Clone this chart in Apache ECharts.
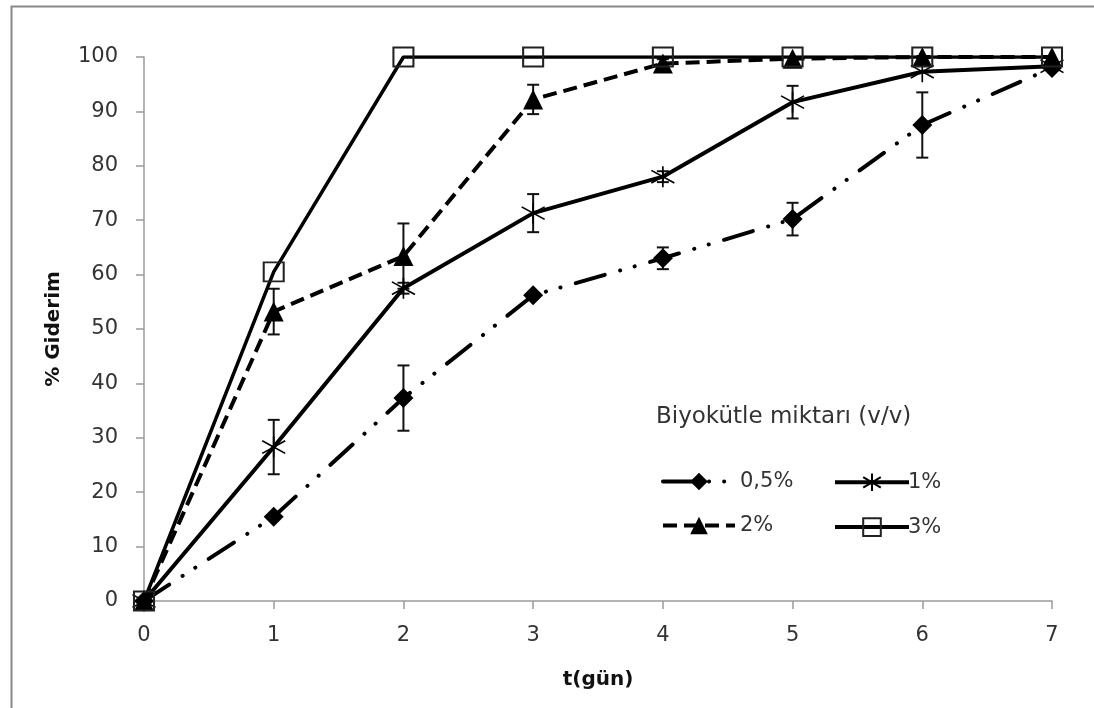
<!DOCTYPE html>
<html><head><meta charset="utf-8">
<script src="https://cdn.jsdelivr.net/npm/echarts@6/dist/echarts.min.js"></script>
<style>html,body{margin:0;padding:0;background:#fff}#c{width:1094px;height:708px}</style>
</head><body><div id="c"></div>
<script>
const days = [0, 1, 2, 3, 4, 5, 6, 7];
const xTicks = [0, 1, 2, 3, 4, 5, 6, 7];
const yTicks = [0, 10, 20, 30, 40, 50, 60, 70, 80, 90, 100];
const seriesNames = ['0,5%', '1%', '2%', '3%'];
const s05 = [0, 15.5, 37.3, 56.2, 63.0, 70.2, 87.5, 98.0];
const s1  = [0, 28.3, 57.5, 71.3, 78.0, 91.7, 97.3, 98.3];
const s2  = [0, 53.2, 63.4, 92.2, 98.8, 99.7, 100, 100];
const s3  = [0, 60.5, 100, 100, 100, 100, 100, 100];
const err05 = [0, 0, 6.0, 0, 2.0, 3.0, 6.0, 0];
const err1  = [0, 5.0, 1.0, 3.5, 1.0, 3.0, 0, 0];
const err2  = [0, 4.2, 6.0, 2.7, 0.8, 0, 0, 0];
const legendTitle = 'Biyokütle miktarı (v/v)';
const yName = '% Giderim';
const xName = 't(gün)';

const FONT = 'DejaVu Sans';
const pts = (v) => days.map((d, i) => [d, v[i]]);
const errData = (v, e) => days.map((d, i) => [d, v[i] - e[i], v[i] + e[i]]).filter((r, i) => e[i] > 0);

const asterisk = 'path://M10,0 L10,20 M1,4 L19,16 M19,4 L1,16';
const square = 'path://M0,0 L20,0 L20,20 L0,20 Z';

function errSeries(v, e) {
  return {
    type: 'custom',
    data: errData(v, e),
    z: 1,
    silent: true,
    renderItem: function (params, api) {
      const x = api.value(0);
      const lo = api.coord([x, api.value(1)]);
      const hi = api.coord([x, api.value(2)]);
      const w = 6;
      const st = { stroke: '#111', lineWidth: 2, fill: 'none' };
      return {
        type: 'group',
        children: [
          { type: 'line', shape: { x1: lo[0], y1: lo[1], x2: hi[0], y2: hi[1] }, style: st },
          { type: 'line', shape: { x1: lo[0] - w, y1: lo[1], x2: lo[0] + w, y2: lo[1] }, style: st },
          { type: 'line', shape: { x1: hi[0] - w, y1: hi[1], x2: hi[0] + w, y2: hi[1] }, style: st }
        ]
      };
    }
  };
}

const axisLabel = { fontFamily: FONT, fontSize: 21, color: '#333' };
const legendBase = {
  orient: 'vertical', top: 466, itemHeight: 22, itemGap: 23,
  lineStyle: { width: 4 }
};
const option = {
  animation: false,
  backgroundColor: '#fff',
  graphic: [
    { type: 'rect', left: 9, top: 4, shape: { width: 1100, height: 720 }, style: { fill: 'none', stroke: '#888', lineWidth: 2 }, silent: true },
    { type: 'text', left: 656, top: 406, style: { text: legendTitle, fontFamily: FONT, fontSize: 23, fill: '#333' } }
  ],
  grid: { left: 144, right: 42, top: 57, bottom: 107 },
  xAxis: {
    type: 'value', min: 0, max: 7, interval: 1,
    name: xName, nameLocation: 'middle', nameGap: 69,
    nameTextStyle: { fontFamily: FONT, fontSize: 20, fontWeight: 'bold', color: '#111' },
    axisLine: { onZero: false, lineStyle: { color: '#9a9a9a', width: 1.5 } },
    axisTick: { show: true, length: 8, lineStyle: { color: '#9a9a9a', width: 1.5 } },
    axisLabel: Object.assign({ margin: 24, formatter: (v) => xTicks.includes(v) ? String(v) : '' }, axisLabel),
    splitLine: { show: false }
  },
  yAxis: {
    type: 'value', min: 0, max: 100, interval: 10,
    name: yName, nameLocation: 'middle', nameGap: 80, nameRotate: 90,
    nameTextStyle: { fontFamily: FONT, fontSize: 20, fontWeight: 'bold', color: '#111' },
    axisLine: { show: true, lineStyle: { color: '#9a9a9a', width: 1.5 } },
    axisTick: { show: true, length: 8, lineStyle: { color: '#9a9a9a', width: 1.5 } },
    axisLabel: Object.assign({ margin: 26, formatter: (v) => yTicks.includes(v) ? String(v) : '' }, axisLabel),
    splitLine: { show: false }
  },
  legend: [
    Object.assign({}, legendBase, {
      data: [seriesNames[0], seriesNames[2]], left: 656, itemWidth: 72,
      textStyle: { fontFamily: FONT, fontSize: 21, color: '#333', padding: [0, 0, 0, 0] }
    }),
    Object.assign({}, legendBase, {
      data: [seriesNames[1], seriesNames[3]], left: 828, itemWidth: 74,
      textStyle: { fontFamily: FONT, fontSize: 21, color: '#333', padding: [0, 0, 0, -6] }
    })
  ],
  series: [
    errSeries(s05, err05), errSeries(s1, err1), errSeries(s2, err2),
    {
      name: seriesNames[0], type: 'line', data: pts(s05), z: 3,
      symbol: 'diamond', symbolSize: 20,
      lineStyle: { color: '#000', width: 4, type: [30, 16, 0.1, 15, 0.1, 16], cap: 'round' },
      itemStyle: { color: '#000' }
    },
    {
      name: seriesNames[1], type: 'line', data: pts(s1), z: 3,
      symbol: asterisk, symbolSize: [23, 21],
      lineStyle: { color: '#000', width: 4 },
      itemStyle: { color: 'none', borderColor: '#000', borderWidth: 1.6 }
    },
    {
      name: seriesNames[2], type: 'line', data: pts(s2), z: 4,
      symbol: 'triangle', symbolSize: 20,
      lineStyle: { color: '#000', width: 4, type: [14, 7] },
      itemStyle: { color: '#000' }
    },
    {
      name: seriesNames[3], type: 'line', data: pts(s3), z: 5,
      symbol: square, symbolSize: [20, 19],
      lineStyle: { color: '#000', width: 3.5 },
      itemStyle: { color: 'rgba(0,0,0,0)', borderColor: '#222', borderWidth: 2 }
    }
  ]
};
const chart = echarts.init(document.getElementById('c'), null, { renderer: 'canvas' });
chart.setOption(option);
</script></body></html>
